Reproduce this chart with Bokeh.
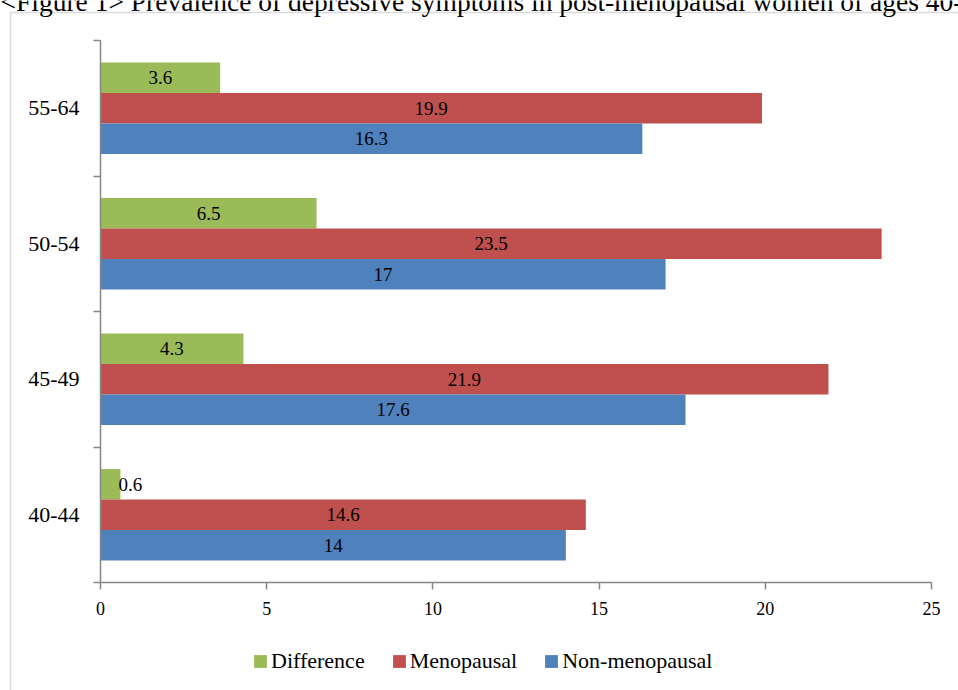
from bokeh.plotting import figure
from bokeh.models import (Range1d, FixedTicker, ColumnDataSource, Legend, LegendItem,
                          Label, BoxAnnotation, LabelSet, LinearAxis)
from bokeh.embed import file_html
from bokeh.resources import INLINE
from bokeh.core.properties import value

# ---- data ----
title_text = "<Figure 1> Prevalence of depressive symptoms in post-menopausal women of ages 40-64"
categories = ["40-44", "45-49", "50-54", "55-64"]
difference = [0.6, 4.3, 6.5, 3.6]
menopausal = [14.6, 21.9, 23.5, 19.9]
non_menopausal = [14.0, 17.6, 17.0, 16.3]
series_names = ["Difference", "Menopausal", "Non-menopausal"]
x_ticks = [0, 5, 10, 15, 20, 25]

colors = ["#9BBB59", "#C0504D", "#4F81BD"]
serif = "Liberation Serif"
axis_color = "#868686"

W, H = 958, 690
# pixel layout of the value area inside the canvas
left_px, right_px, top_px, bottom_px = 100, 931, 40, 582
xmin, xmax = 0, 25
ymin, ymax = 0, len(categories)
sx = (right_px - left_px) / (xmax - xmin)
sy = (bottom_px - top_px) / (ymax - ymin)
x_range = Range1d(xmin - left_px / sx, xmax + (W - right_px) / sx)
y_range = Range1d(ymin - (H - bottom_px) / sy, ymax + top_px / sy)

p = figure(width=W, height=H, output_backend="svg", toolbar_location=None,
           x_range=x_range, y_range=y_range,
           x_axis_location=None, y_axis_location=None,
           min_border=0, title=None)
p.outline_line_color = None
p.xgrid.visible = False
p.ygrid.visible = False
p.background_fill_color = "white"
p.border_fill_color = "white"

bar_h = 0.225
offsets = [bar_h, 0.0, -bar_h]
series = [difference, menopausal, non_menopausal]
centers = [i + 0.5 for i in range(len(categories))]

renderers = []
for vals, off, col in zip(series, offsets, colors):
    src = ColumnDataSource(dict(
        y=[c + off for c in centers],
        right=vals,
        lx=[max(v / 2, 0.9) for v in vals],
        txt=[("%g" % v) for v in vals],
    ))
    r = p.hbar(y="y", right="right", left=0, height=bar_h, source=src,
               fill_color=col, line_color=None)
    renderers.append(r)
    p.add_layout(LabelSet(x="lx", y="y", text="txt", source=src,
                          text_align="center", text_baseline="middle",
                          text_font=value(serif), text_font_size="19px",
                          text_color="black"))

# x axis (fixed at y = 0)
xa = LinearAxis(fixed_location=ymin, bounds=(xmin, xmax))
xa.ticker = FixedTicker(ticks=x_ticks, minor_ticks=[])
xa.axis_line_color = axis_color
xa.axis_line_width = 1.5
xa.major_tick_line_color = axis_color
xa.major_tick_line_width = 1.5
xa.major_tick_in = 0
xa.major_tick_out = 7
xa.minor_tick_line_color = None
xa.major_label_text_font = serif
xa.major_label_text_font_size = "18px"
xa.major_label_text_color = "black"
xa.major_label_standoff = 12
p.add_layout(xa, "below")

# y axis (fixed at x = 0): labels at centres, ticks at boundaries
ya = LinearAxis(fixed_location=xmin, bounds=(ymin, ymax))
ya.ticker = FixedTicker(ticks=centers, minor_ticks=list(range(len(categories) + 1)))
ya.major_label_overrides = {c: lab for c, lab in zip(centers, categories)}
ya.axis_line_color = axis_color
ya.axis_line_width = 1.5
ya.major_tick_line_color = None
ya.major_tick_in = 0
ya.major_tick_out = 0
ya.minor_tick_line_color = axis_color
ya.minor_tick_line_width = 1.5
ya.minor_tick_in = 0
ya.minor_tick_out = 7
ya.major_label_text_font = serif
ya.major_label_text_font_size = "22px"
ya.major_label_text_color = "black"
ya.major_label_standoff = 14
p.add_layout(ya, "left")

# legend
legend = Legend(items=[LegendItem(label=n, renderers=[r]) for n, r in zip(series_names, renderers)],
                orientation="horizontal", location=(252, 16),
                glyph_width=16, glyph_height=16, label_height=16,
                label_standoff=3, spacing=26, padding=0, margin=0,
                border_line_color=None, background_fill_alpha=0,
                label_text_font="serif", label_text_font_size="22px",
                label_text_color="black")
p.add_layout(legend)

# outer chart border
p.add_layout(BoxAnnotation(left=10, right=3000, top=H - 12, bottom=-3000,
                           left_units="screen", right_units="screen",
                           top_units="screen", bottom_units="screen",
                           fill_alpha=0, line_color=axis_color, line_width=1.5))

# title (cut off at the top of the window, as in the original)
p.add_layout(Label(x=0, y=H - 1, x_units="screen", y_units="screen",
                   text=title_text, text_font=serif, text_font_size="27.5px",
                   text_baseline="alphabetic", text_color="black"))

open("out.html", "w").write(file_html(p, INLINE))
